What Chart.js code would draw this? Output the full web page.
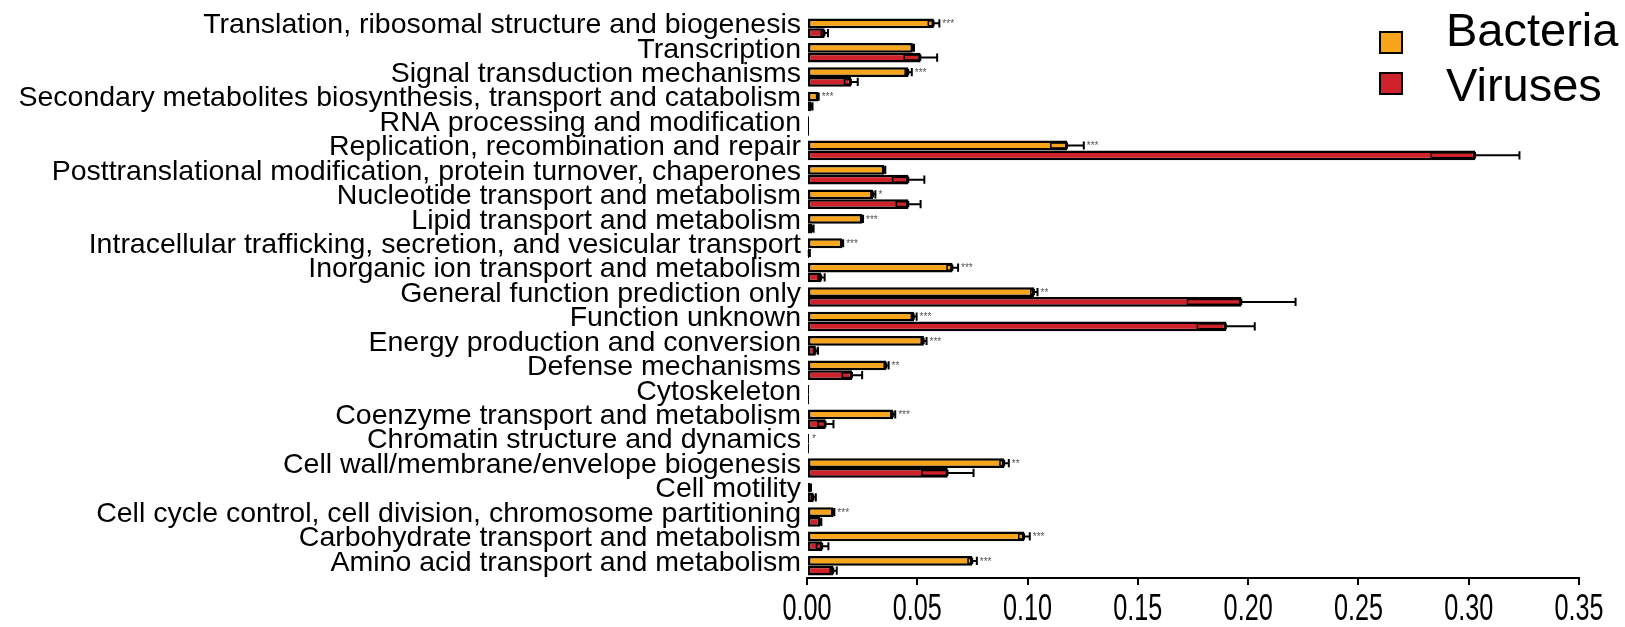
<!DOCTYPE html>
<html>
<head>
<meta charset="utf-8">
<script src="https://cdn.jsdelivr.net/npm/chart.js@4"></script>
<style>
  body { margin: 0; background: #fff; }
  #wrap { width: 1625px; height: 627px; position: relative; }
</style>
</head>
<body>
<div id="wrap"><canvas id="cog-chart"></canvas></div>
<script>
const categories = [
  "Translation, ribosomal structure and biogenesis",
  "Transcription",
  "Signal transduction mechanisms",
  "Secondary metabolites biosynthesis, transport and catabolism",
  "RNA processing and modification",
  "Replication, recombination and repair",
  "Posttranslational modification, protein turnover, chaperones",
  "Nucleotide transport and metabolism",
  "Lipid transport and metabolism",
  "Intracellular trafficking, secretion, and vesicular transport",
  "Inorganic ion transport and metabolism",
  "General function prediction only",
  "Function unknown",
  "Energy production and conversion",
  "Defense mechanisms",
  "Cytoskeleton",
  "Coenzyme transport and metabolism",
  "Chromatin structure and dynamics",
  "Cell wall/membrane/envelope biogenesis",
  "Cell motility",
  "Cell cycle control, cell division, chromosome partitioning",
  "Carbohydrate transport and metabolism",
  "Amino acid transport and metabolism"
];

const bacteria    = [0.0575, 0.048, 0.046, 0.005, 0, 0.118, 0.035, 0.030, 0.025, 0.016, 0.066, 0.103, 0.0485, 0.053, 0.036, 0, 0.039, 0, 0.0895, 0.0015, 0.012, 0.0985, 0.075];
const bacteriaErr = [0.0025, 0.0005, 0.0015, 0.0003, 0, 0.0075, 0.0005, 0.001, 0.0004, 0.0004, 0.0025, 0.0015, 0.0012, 0.0012, 0.001, 0, 0.001, 0, 0.002, 0.0003, 0.0004, 0.0025, 0.002];
const viruses     = [0.008, 0.0515, 0.020, 0.002, 0, 0.303, 0.046, 0.046, 0.0025, 0.001, 0.0065, 0.197, 0.190, 0.004, 0.0205, 0, 0.0085, 0, 0.0638, 0.003, 0.006, 0.007, 0.012];
const virusesErr  = [0.0015, 0.0075, 0.003, 0.0005, 0, 0.020, 0.0072, 0.0055, 0.0005, 0.0003, 0.0015, 0.0245, 0.013, 0.001, 0.0045, 0, 0.0035, 0, 0.0117, 0.001, 0.0005, 0.0027, 0.0015];
const stars = ["***", "", "***", "***", "", "***", "", "*", "***", "***", "***", "**", "***", "***", "**", "", "***", "*", "**", "", "***", "***", "***"];

const xTicks = [0, 0.05, 0.10, 0.15, 0.20, 0.25, 0.30, 0.35];

const ORANGE = "#F9A51B";
const RED = "#D0222A";
const FONT = "'Liberation Sans', Arial, sans-serif";

function drawStars(ctx, text, x, y) {
  ctx.save();
  ctx.fillStyle = "#555";
  ctx.font = "10px " + FONT;
  ctx.textBaseline = "middle";
  ctx.fillText(text, x, y);
  ctx.restore();
}

// error bars: small box inside the bar, whisker + cap outside
const errorBars = {
  id: "errorBars",
  afterDatasetsDraw(chart) {
    const ctx = chart.ctx;
    const x = chart.scales.x;
    const errs = [bacteriaErr, virusesErr];
    chart.data.datasets.forEach((ds, d) => {
      const meta = chart.getDatasetMeta(d);
      meta.data.forEach((bar, i) => {
        const err = errs[d][i];
        let tip = bar.x;
        if (err) {
          const v = ds.data[i];
          const h = bar.height;
          const lo = Math.max(x.getPixelForValue(v - err), bar.base);
          const hi = x.getPixelForValue(v + err);
          ctx.save();
          ctx.strokeStyle = "#000";
          ctx.lineWidth = 1.5;
          ctx.strokeRect(lo, bar.y - h * 0.25, bar.x - lo, h * 0.5);
          ctx.lineWidth = 2;
          ctx.beginPath();
          ctx.moveTo(bar.x, bar.y);
          ctx.lineTo(hi, bar.y);
          ctx.moveTo(hi, bar.y - h * 0.42);
          ctx.lineTo(hi, bar.y + h * 0.42);
          ctx.stroke();
          ctx.restore();
          tip = Math.max(hi, bar.x);
        }
        if (d === 0 && stars[i]) drawStars(ctx, stars[i], tip + 3, bar.y + 1);
      });
    });
  }
};

// narrow x tick labels, drawn at the scale's own tick positions
const narrowTicks = {
  id: "narrowTicks",
  afterDraw(chart) {
    const ctx = chart.ctx;
    const x = chart.scales.x;
    ctx.save();
    ctx.fillStyle = "#000";
    ctx.font = "36px " + FONT;
    ctx.textAlign = "center";
    ctx.textBaseline = "middle";
    x.ticks.forEach((t, i) => {
      const px = x.getPixelForTick(i);
      ctx.save();
      ctx.translate(px, x.top + 32);
      ctx.scale(0.7, 1);
      ctx.fillText(t.label, 0, 0);
      ctx.restore();
    });
    ctx.restore();
  }
};

const cornerLegend = {
  id: "cornerLegend",
  afterDraw(chart) {
    const ctx = chart.ctx;
    const items = [
      { text: chart.data.datasets[0].label, color: ORANGE, boxY: 32, textY: 46 },
      { text: chart.data.datasets[1].label, color: RED, boxY: 73, textY: 101 }
    ];
    ctx.save();
    items.forEach(it => {
      ctx.fillStyle = it.color;
      ctx.fillRect(1380, it.boxY, 22, 21);
      ctx.strokeStyle = "#000";
      ctx.lineWidth = 2;
      ctx.strokeRect(1380, it.boxY, 22, 21);
      ctx.fillStyle = "#000";
      ctx.font = "47px " + FONT;
      ctx.textBaseline = "alphabetic";
      ctx.fillText(it.text, 1446, it.textY);
    });
    ctx.restore();
  }
};

new Chart(document.getElementById("cog-chart"), {
  type: "bar",
  data: {
    labels: categories,
    datasets: [
      { label: "Bacteria", data: bacteria, backgroundColor: ORANGE, borderColor: "#000", borderWidth: 2.5, borderSkipped: false, minBarLength: 2 },
      { label: "Viruses", data: viruses, backgroundColor: RED, borderColor: "#000", borderWidth: 2.5, borderSkipped: false, minBarLength: 2 }
    ]
  },
  options: {
    indexAxis: "y",
    responsive: true,
    maintainAspectRatio: false,
    animation: false,
    datasets: { bar: { categoryPercentage: 0.8, barPercentage: 1.0 } },
    layout: { padding: { left: 0, right: 46, top: 16, bottom: 0 } },
    plugins: { legend: { display: false }, tooltip: { enabled: false } },
    scales: {
      x: {
        min: 0,
        max: 0.35,
        afterBuildTicks(scale) { scale.ticks = xTicks.map(v => ({ value: v })); },
        afterFit(scale) { scale.height = 49; scale.paddingLeft = 0; scale.paddingRight = 0; },
        ticks: {
          color: "rgba(0,0,0,0)",
          font: { family: FONT, size: 30 },
          maxRotation: 0,
          callback: v => Number(v).toFixed(2)
        },
        grid: { display: true, drawOnChartArea: false, drawTicks: true, tickLength: 7, color: "#000", lineWidth: 2 },
        border: { display: true, color: "#000", width: 2 }
      },
      y: {
        afterFit(scale) { scale.width = 807; scale.paddingTop = 0; scale.paddingBottom = 0; },
        ticks: { color: "#000", font: { family: FONT, size: 28.5 }, padding: 6, autoSkip: false, labelOffset: -3 },
        grid: { display: false, drawTicks: false },
        border: { display: false }
      }
    }
  },
  plugins: [errorBars, narrowTicks, cornerLegend]
});
</script>
</body>
</html>
